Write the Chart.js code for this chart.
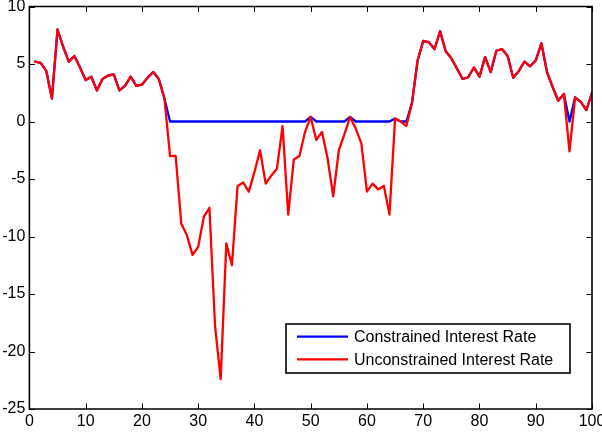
<!DOCTYPE html>
<html>
<head>
<meta charset="utf-8">
<script src="https://cdn.jsdelivr.net/npm/chart.js@4/dist/chart.umd.min.js"></script>
<style>
html,body{margin:0;padding:0;background:#fff;}
#c{display:block;}
</style>
</head>
<body>
<canvas id="c" width="602" height="440"></canvas>
<script>
const periods = [1,2,3,4,5,6,7,8,9,10,11,12,13,14,15,16,17,18,19,20,
  21,22,23,24,25,26,27,28,29,30,31,32,33,34,35,36,37,38,39,40,
  41,42,43,44,45,46,47,48,49,50,51,52,53,54,55,56,57,58,59,60,
  61,62,63,64,65,66,67,68,69,70,71,72,73,74,75,76,77,78,79,80,
  81,82,83,84,85,86,87,88,89,90,91,92,93,94,95,96,97,98,99,100];

const unconstrainedRate = [5.2,5.1,4.4,2.0,8.0,6.5,5.2,5.7,4.7,3.6,
  3.9,2.7,3.7,4.0,4.1,2.7,3.1,3.9,3.1,3.2,
  3.8,4.3,3.7,2.0,-3.0,-3.0,-8.9,-9.9,-11.6,-10.9,
  -8.3,-7.5,-17.8,-22.4,-10.6,-12.5,-5.6,-5.3,-6.1,-4.4,
  -2.5,-5.4,-4.7,-4.1,-0.4,-8.1,-3.3,-3.0,-0.9,0.4,
  -1.6,-0.9,-3.2,-6.5,-2.5,-1.1,0.4,-0.6,-1.9,-6.1,
  -5.4,-5.9,-5.6,-8.1,0.25,0.0,-0.4,1.6,5.3,7.0,
  6.9,6.3,7.85,6.1,5.5,4.6,3.7,3.85,4.7,3.9,
  5.6,4.3,6.15,6.3,5.7,3.8,4.4,5.2,4.8,5.3,
  6.8,4.3,3.0,1.8,2.4,-2.6,2.1,1.7,1.0,2.5];

const constrainedRate = [5.2,5.1,4.4,2.0,8.0,6.5,5.2,5.7,4.7,3.6,
  3.9,2.7,3.7,4.0,4.1,2.7,3.1,3.9,3.1,3.2,
  3.8,4.3,3.7,2.0,0,0,0,0,0,0,
  0,0,0,0,0,0,0,0,0,0,
  0,0,0,0,0,0,0,0,0,0.4,
  0,0,0,0,0,0,0.4,0,0,0,
  0,0,0,0,0.25,0,0,1.6,5.3,7.0,
  6.9,6.3,7.85,6.1,5.5,4.6,3.7,3.85,4.7,3.9,
  5.6,4.3,6.15,6.3,5.7,3.8,4.4,5.2,4.8,5.3,
  6.8,4.3,3.0,1.8,2.4,0,2.1,1.7,1.0,2.5];

const xTicks = [0,10,20,30,40,50,60,70,80,90,100];
const yTicks = [-25,-20,-15,-10,-5,0,5,10];
const seriesNames = ['Constrained Interest Rate','Unconstrained Interest Rate'];
const seriesColors = ['#0000ff','#ff0000'];

const FONT = {family: '"Liberation Sans", Arial, sans-serif', size: 16};

const toPts = (vals) => periods.map((p, i) => ({x: p, y: vals[i]}));

const framePlugin = {
  id: 'frame',
  afterDraw(chart) {
    const ctx = chart.ctx;
    const a = chart.chartArea;
    const sx = chart.scales.x, sy = chart.scales.y;
    ctx.save();
    ctx.strokeStyle = '#000000';
    ctx.lineWidth = 1;
    const tl = 5.5;
    ctx.beginPath();
    for (const v of xTicks) {
      const px = Math.round(sx.getPixelForValue(v)) + 0.5;
      ctx.moveTo(px, a.bottom); ctx.lineTo(px, a.bottom - tl);
      ctx.moveTo(px, a.top); ctx.lineTo(px, a.top + tl);
    }
    for (const v of yTicks) {
      const py = Math.round(sy.getPixelForValue(v)) + 0.5;
      ctx.moveTo(a.left, py); ctx.lineTo(a.left + tl, py);
      ctx.moveTo(a.right, py); ctx.lineTo(a.right - tl, py);
    }
    ctx.stroke();
    ctx.lineWidth = 1.6;
    ctx.beginPath();
    ctx.rect(a.left, a.top, a.right - a.left, a.bottom - a.top);
    ctx.stroke();

    // legend box
    const bx = 286, by = 324, bw = 284, bh = 49;
    ctx.fillStyle = '#ffffff';
    ctx.fillRect(bx, by, bw, bh);
    ctx.strokeStyle = '#000000';
    ctx.lineWidth = 1.6;
    ctx.strokeRect(bx, by, bw, bh);
    ctx.font = '16px "Liberation Sans", Arial, sans-serif';
    ctx.textBaseline = 'middle';
    ctx.textAlign = 'left';
    chart.data.datasets.forEach((ds, i) => {
      const y = by + 12.7 + i * 22.6;
      ctx.strokeStyle = ds.borderColor;
      ctx.lineWidth = 2.2;
      ctx.beginPath();
      ctx.moveTo(297, y); ctx.lineTo(348, y);
      ctx.stroke();
      ctx.fillStyle = '#000000';
      ctx.fillText(ds.label, 354, y + 1);
    });
    ctx.restore();
  }
};

new Chart(document.getElementById('c'), {
  type: 'line',
  data: {
    datasets: [
      {label: seriesNames[0], data: toPts(constrainedRate), borderColor: seriesColors[0], order: 1},
      {label: seriesNames[1], data: toPts(unconstrainedRate), borderColor: seriesColors[1], order: 0}
    ]
  },
  options: {
    responsive: false,
    animation: false,
    devicePixelRatio: 1,
    layout: {padding: {left: 0, right: 10, top: 6.5, bottom: 0}},
    elements: {
      point: {radius: 0, hoverRadius: 0},
      line: {tension: 0, borderWidth: 2.3, fill: false, borderJoinStyle: 'round', borderCapStyle: 'round'}
    },
    plugins: {legend: {display: false}, tooltip: {enabled: false}},
    scales: {
      x: {
        type: 'linear', min: 0, max: 100,
        ticks: {stepSize: 10, color: '#000', font: FONT, padding: 3, maxRotation: 0, autoSkip: false},
        grid: {display: false, drawTicks: false},
        border: {display: false},
        afterFit(s) { s.height = 31; s.paddingLeft = 0; s.paddingRight = 0; }
      },
      y: {
        min: -25, max: 10,
        ticks: {stepSize: 5, color: '#000', font: FONT, padding: 4},
        grid: {display: false, drawTicks: false},
        border: {display: false},
        afterFit(s) { s.width = 29.4; s.paddingTop = 0; s.paddingBottom = 0; }
      }
    }
  },
  plugins: [framePlugin]
});
</script>
</body>
</html>
